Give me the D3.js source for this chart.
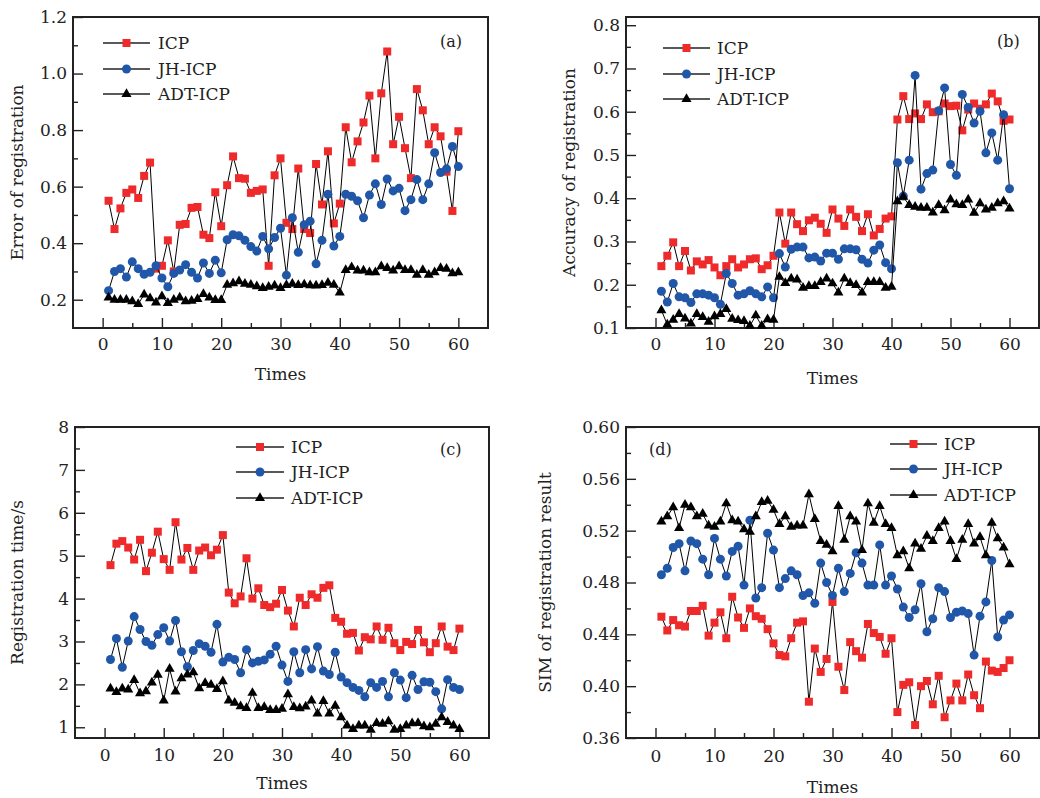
<!DOCTYPE html>
<html>
<head>
<meta charset="utf-8">
<script src="https://cdn.jsdelivr.net/npm/d3@7"></script>
<style>
  body { margin: 0; background: #fff; }
  text { font-family: "DejaVu Serif", serif; fill: #222; }
</style>
</head>
<body>
<script>
// x categories and series names
var times = d3.range(1, 61);
var seriesNames = ["ICP", "JH-ICP", "ADT-ICP"];

// (a) Error of registration
var errIcp = [0.55,0.45,0.523,0.578,0.59,0.56,0.638,0.685,0.31,0.32,
  0.41,0.30,0.465,0.468,0.525,0.528,0.43,0.418,0.58,0.46,
  0.605,0.707,0.63,0.628,0.578,0.585,0.59,0.32,0.64,0.70,
  0.472,0.45,0.664,0.45,0.436,0.68,0.537,0.725,0.47,0.54,
  0.81,0.686,0.76,0.827,0.922,0.70,0.93,1.078,0.75,0.847,
  0.736,0.63,0.945,0.87,0.75,0.81,0.778,0.653,0.514,0.796];
var errJh = [0.232,0.30,0.31,0.28,0.334,0.31,0.29,0.297,0.32,0.277,
  0.246,0.293,0.305,0.324,0.297,0.277,0.33,0.293,0.34,0.295,
  0.412,0.43,0.426,0.41,0.388,0.372,0.424,0.38,0.42,0.453,
  0.287,0.49,0.368,0.465,0.478,0.327,0.41,0.573,0.39,0.424,
  0.573,0.566,0.55,0.49,0.57,0.61,0.537,0.627,0.585,0.594,
  0.515,0.554,0.625,0.554,0.61,0.72,0.65,0.663,0.742,0.671];
var errAdt = [0.208,0.20,0.20,0.20,0.194,0.185,0.218,0.205,0.19,0.212,
  0.188,0.20,0.208,0.194,0.196,0.202,0.22,0.208,0.199,0.199,
  0.253,0.258,0.265,0.256,0.253,0.247,0.241,0.246,0.25,0.241,
  0.252,0.256,0.252,0.254,0.251,0.25,0.252,0.26,0.253,0.225,
  0.305,0.315,0.303,0.303,0.297,0.297,0.318,0.312,0.303,0.318,
  0.305,0.305,0.288,0.305,0.288,0.297,0.312,0.309,0.293,0.297];

// (b) Accuracy of registration
var accIcp = [0.243,0.267,0.298,0.243,0.278,0.233,0.254,0.247,0.257,0.24,
  0.222,0.243,0.259,0.24,0.247,0.259,0.261,0.236,0.245,0.267,
  0.367,0.295,0.367,0.34,0.324,0.349,0.355,0.341,0.32,0.374,
  0.353,0.336,0.374,0.357,0.324,0.363,0.314,0.329,0.353,0.358,
  0.582,0.636,0.583,0.596,0.583,0.617,0.599,0.601,0.619,0.613,
  0.614,0.557,0.605,0.619,0.607,0.617,0.642,0.624,0.579,0.582];
var accJh = [0.185,0.16,0.203,0.172,0.17,0.159,0.179,0.179,0.176,0.17,
  0.155,0.226,0.203,0.176,0.179,0.186,0.179,0.172,0.195,0.17,
  0.272,0.241,0.282,0.287,0.287,0.262,0.264,0.255,0.273,0.273,
  0.259,0.283,0.283,0.281,0.259,0.25,0.28,0.292,0.251,0.237,
  0.482,0.405,0.488,0.684,0.421,0.457,0.465,0.602,0.655,0.478,
  0.453,0.64,0.61,0.574,0.601,0.505,0.551,0.488,0.593,0.422];
var accAdt = [0.141,0.108,0.119,0.132,0.122,0.11,0.132,0.125,0.114,0.127,
  0.132,0.144,0.121,0.118,0.116,0.105,0.129,0.105,0.12,0.119,
  0.218,0.204,0.214,0.212,0.193,0.197,0.197,0.206,0.214,0.203,
  0.182,0.214,0.204,0.199,0.182,0.206,0.206,0.206,0.193,0.195,
  0.393,0.403,0.384,0.38,0.378,0.378,0.367,0.384,0.372,0.397,
  0.386,0.384,0.397,0.366,0.388,0.374,0.378,0.388,0.393,0.376];

// (c) Registration time/s
var timeIcp = [4.78,5.28,5.34,5.19,4.91,5.37,4.64,5.07,5.56,4.92,
  4.67,5.78,4.91,5.18,4.67,5.12,5.19,5.01,5.14,5.48,
  4.14,3.89,4.05,4.94,4.0,4.24,3.85,3.80,3.88,4.2,
  3.72,3.35,4.02,3.85,4.1,4.02,4.25,4.31,3.55,3.46,
  3.18,3.20,2.79,3.10,3.05,3.35,3.04,3.32,2.96,2.80,
  2.99,2.94,3.27,2.98,2.75,2.96,3.35,2.88,2.80,3.30];
var timeJh = [2.58,3.07,2.40,3.01,3.58,3.28,3.0,2.91,3.16,3.32,
  3.01,3.49,2.76,2.41,2.79,2.95,2.89,2.75,3.40,2.52,
  2.63,2.58,2.27,2.81,2.50,2.54,2.57,2.70,2.89,2.45,
  2.07,2.76,2.27,2.81,2.36,2.88,2.31,2.23,2.75,2.17,
  2.04,1.93,1.86,1.71,2.04,1.93,2.07,1.71,2.27,2.10,
  1.69,2.21,1.88,2.06,2.05,1.83,1.43,2.11,1.93,1.88];
var timeAdt = [1.90,1.82,1.90,1.88,2.10,1.79,1.84,2.04,2.22,1.62,
  2.36,1.83,2.14,2.23,2.28,1.91,2.03,1.99,1.89,2.07,
  1.62,1.57,1.49,1.45,1.80,1.45,1.47,1.40,1.40,1.43,
  1.77,1.47,1.44,1.48,1.62,1.32,1.61,1.32,1.50,1.23,
  1.04,0.96,1.04,1.04,0.94,1.10,1.08,1.14,0.94,0.96,
  1.04,1.09,1.10,1.02,1.00,1.08,1.23,1.12,1.04,0.96];

// (d) SIM of registration result
var simIcp = [0.4536,0.443,0.451,0.447,0.446,0.458,0.458,0.462,0.439,0.449,
  0.457,0.437,0.469,0.453,0.445,0.460,0.454,0.452,0.444,0.433,
  0.424,0.423,0.437,0.449,0.450,0.388,0.429,0.411,0.421,0.465,
  0.415,0.397,0.434,0.427,0.422,0.448,0.441,0.438,0.425,0.437,
  0.380,0.401,0.403,0.370,0.400,0.404,0.386,0.408,0.376,0.389,
  0.402,0.389,0.409,0.393,0.383,0.419,0.412,0.411,0.414,0.420];
var simJh = [0.486,0.491,0.507,0.510,0.489,0.512,0.510,0.498,0.486,0.514,
  0.498,0.485,0.504,0.508,0.478,0.528,0.468,0.476,0.518,0.505,
  0.476,0.483,0.489,0.486,0.470,0.472,0.464,0.495,0.480,0.470,
  0.491,0.473,0.487,0.503,0.495,0.478,0.478,0.509,0.478,0.485,
  0.475,0.461,0.453,0.459,0.479,0.442,0.452,0.476,0.473,0.453,
  0.457,0.458,0.456,0.424,0.454,0.465,0.497,0.438,0.451,0.455];
var simAdt = [0.527,0.531,0.538,0.522,0.540,0.538,0.531,0.533,0.524,0.523,
  0.527,0.541,0.528,0.527,0.521,0.519,0.531,0.542,0.543,0.536,
  0.525,0.531,0.523,0.524,0.524,0.548,0.529,0.512,0.509,0.504,
  0.539,0.513,0.531,0.527,0.505,0.541,0.526,0.539,0.525,0.522,
  0.501,0.504,0.491,0.510,0.506,0.516,0.512,0.522,0.527,0.512,
  0.498,0.513,0.525,0.510,0.515,0.501,0.526,0.514,0.507,0.494];

// tick labels
var xTicks = [0, 10, 20, 30, 40, 50, 60];
var xMinorTicks = [5, 15, 25, 35, 45, 55];
var yTicksA = [0.2, 0.4, 0.6, 0.8, 1.0, 1.2];
var yTicksB = [0.1, 0.2, 0.3, 0.4, 0.5, 0.6, 0.7, 0.8];
var yTicksC = [1, 2, 3, 4, 5, 6, 7, 8];
var yTicksD = [0.36, 0.40, 0.44, 0.48, 0.52, 0.56, 0.60];

var red = "#ee2a2b", blue = "#2157a8";

var panels = [
  { tag: "(a)", ylabel: "Error of registration", series: [errIcp, errJh, errAdt],
    left: 73, right: 488, top: 17, bottom: 328, ydom: [0.1, 1.2],
    yt: yTicksA, ymin: [0.3, 0.5, 0.7, 0.9, 1.1], fmt: ".1f",
    ylx: 23, xlY: 380, xtY: 350, tagX: 440, tagY: 47,
    leg: { x1: 103, x2: 150, tx: 158, y: [43, 69, 94] } },
  { tag: "(b)", ylabel: "Accuracy of registration", series: [accIcp, accJh, accAdt],
    left: 626, right: 1039, top: 17, bottom: 328, ydom: [0.1, 0.819],
    yt: yTicksB, ymin: [0.15, 0.25, 0.35, 0.45, 0.55, 0.65, 0.75], fmt: ".1f",
    ylx: 575, xlY: 384, xtY: 350, tagX: 997, tagY: 47,
    leg: { x1: 663, x2: 710, tx: 717, y: [48, 74, 99] } },
  { tag: "(c)", ylabel: "Registration time/s", series: [timeIcp, timeJh, timeAdt],
    left: 75, right: 489, top: 427, bottom: 738, ydom: [0.75, 8],
    yt: yTicksC, ymin: [1.5, 2.5, 3.5, 4.5, 5.5, 6.5, 7.5], fmt: "d",
    ylx: 23, xlY: 789, xtY: 761, tagX: 440, tagY: 455,
    leg: { x1: 236, x2: 284, tx: 291, y: [447, 472, 498] } },
  { tag: "(d)", ylabel: "SIM of registration result", series: [simIcp, simJh, simAdt],
    left: 626, right: 1039, top: 427, bottom: 738, ydom: [0.36, 0.60],
    yt: yTicksD, ymin: [0.38, 0.42, 0.46, 0.50, 0.54, 0.58], fmt: ".2f",
    ylx: 551, xlY: 793, xtY: 762, tagX: 649, tagY: 455,
    leg: { x1: 890, x2: 937, tx: 944, y: [444, 469, 495] } }
];

var svg = d3.select("body").append("svg")
  .attr("width", 1040)
  .attr("height", 798)
  .style("background", "white");

// marker for series k
function marker(sel, k) {
  if (k === 0) {
    sel.append("rect").attr("x", -4).attr("y", -4).attr("width", 8).attr("height", 8).attr("fill", red);
  } else if (k === 1) {
    sel.append("circle").attr("r", 4.5).attr("fill", blue);
  } else {
    sel.append("path").attr("d", d3.symbol(d3.symbolTriangle, 44)()).attr("fill", "#000");
  }
}

function styleAxis(g, size) {
  g.select(".domain").remove();
  g.selectAll(".tick line").attr("stroke", "#222").attr("stroke-width", 1.4);
  g.selectAll("text").style("font-family", '"DejaVu Serif", serif').style("font-size", size + "px").attr("fill", "#222");
}

panels.forEach(function(p) {
  var x = d3.scaleLinear().domain([-5, 65]).range([p.left, p.right]);
  var y = d3.scaleLinear().domain(p.ydom).range([p.bottom, p.top]);
  var g = svg.append("g");

  //Draw Axes (ticks pointing inward)
  g.append("g").attr("transform", `translate(0,${p.bottom})`)
    .call(d3.axisBottom(x).tickValues(xMinorTicks).tickSize(-5).tickFormat(""))
    .call(styleAxis, 17);
  var xa = g.append("g").attr("transform", `translate(0,${p.bottom})`)
    .call(d3.axisBottom(x).tickValues(xTicks).tickSize(-10).tickPadding(0).tickFormat(d3.format("d")))
    .call(styleAxis, 17);
  xa.selectAll("text").attr("dy", null).attr("y", p.xtY - p.bottom);

  g.append("g").attr("transform", `translate(${p.left},0)`)
    .call(d3.axisLeft(y).tickValues(p.ymin).tickSize(-5).tickFormat(""))
    .call(styleAxis, 17);
  g.append("g").attr("transform", `translate(${p.left},0)`)
    .call(d3.axisLeft(y).tickValues(p.yt).tickSize(-10).tickPadding(6).tickFormat(d3.format(p.fmt)))
    .call(styleAxis, 17);

  // frame
  g.append("rect")
    .attr("x", p.left).attr("y", p.top)
    .attr("width", p.right - p.left).attr("height", p.bottom - p.top)
    .attr("fill", "none").attr("stroke", "#222").attr("stroke-width", 2);

  //Add labels
  g.append("text").attr("x", (p.left + p.right) / 2).attr("y", p.xlY)
    .attr("text-anchor", "middle").style("font-size", "17px").text("Times");
  g.append("text")
    .attr("transform", `translate(${p.ylx},${(p.top + p.bottom) / 2}) rotate(-90)`)
    .attr("text-anchor", "middle").style("font-size", "17px").text(p.ylabel);
  g.append("text").attr("x", p.tagX).attr("y", p.tagY).style("font-size", "16px").text(p.tag);

  // lines and markers
  var line = d3.line().x(function(d, i) { return x(times[i]); }).y(function(d) { return y(d); });
  p.series.forEach(function(vals, k) {
    g.append("path").datum(vals).attr("d", line)
      .attr("fill", "none").attr("stroke", "#000").attr("stroke-width", 1);
    g.selectAll(".m" + k).data(vals).enter()
      .append("g").attr("class", "m" + k)
      .attr("transform", function(d, i) { return `translate(${x(times[i])},${y(d)})`; })
      .each(function() { marker(d3.select(this), k); });
  });

  // Handmade legend
  seriesNames.forEach(function(name, k) {
    var ly = p.leg.y[k];
    g.append("line").attr("x1", p.leg.x1).attr("x2", p.leg.x2).attr("y1", ly).attr("y2", ly)
      .attr("stroke", "#222").attr("stroke-width", 1.3);
    var mg = g.append("g").attr("transform", `translate(${(p.leg.x1 + p.leg.x2) / 2},${ly})`);
    marker(mg, k);
    g.append("text").attr("x", p.leg.tx).attr("y", ly).attr("dy", "0.36em")
      .style("font-size", "17px").text(name);
  });
});
</script>
</body>
</html>
